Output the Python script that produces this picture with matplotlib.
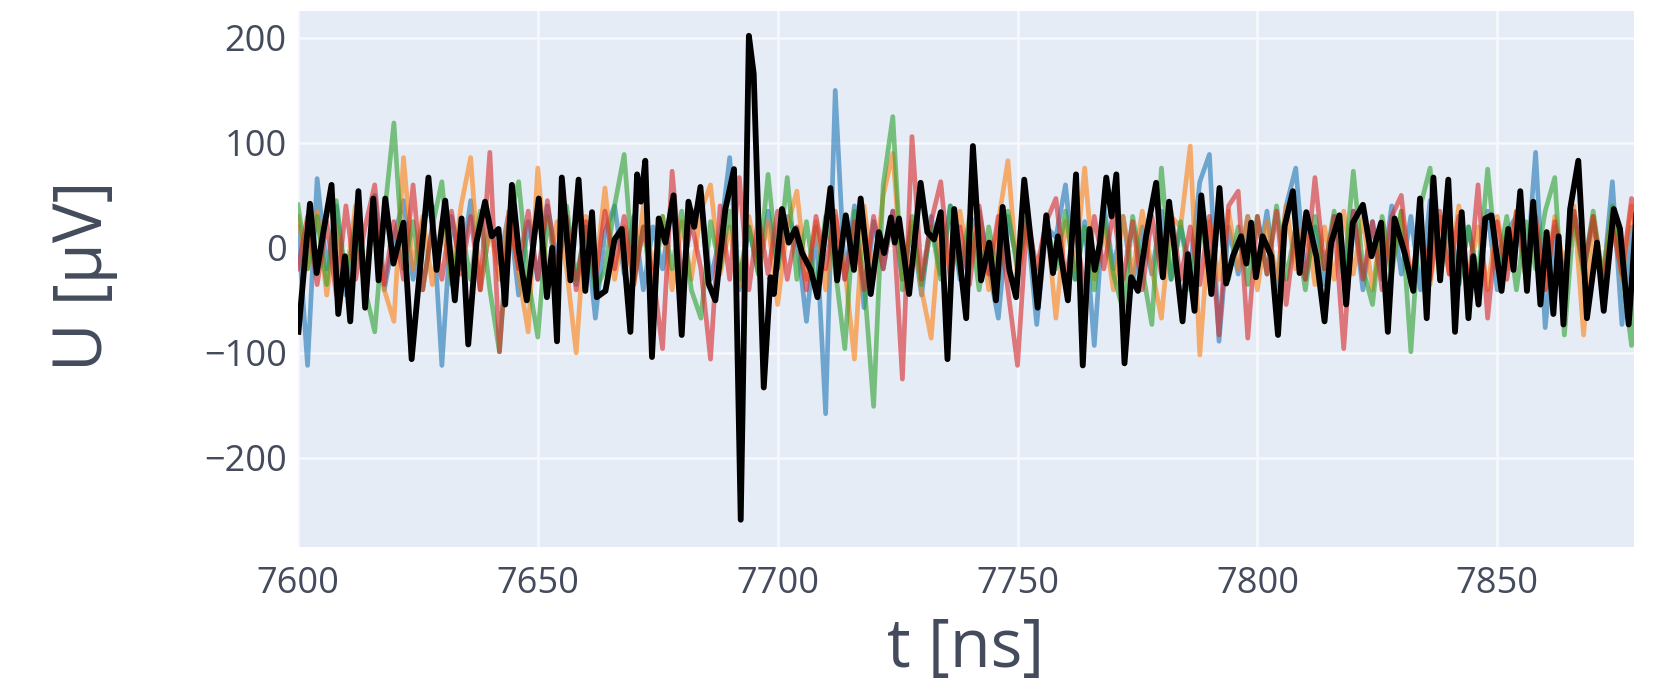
import numpy as np
import matplotlib
matplotlib.use("Agg")
import matplotlib.pyplot as plt

# ---- black reference trace (sample times in ns, voltage in µV) ----
t_black = [
    7600.1, 7602.5, 7603.9, 7605.3, 7607.0, 7608.4, 7609.8, 7610.9, 7612.6, 7614.0,
    7615.7, 7616.8, 7618.2, 7619.9, 7622.0, 7623.7, 7627.2, 7628.9, 7630.7, 7632.7,
    7634.1, 7635.5, 7637.2, 7639.0, 7640.4, 7641.8, 7643.2, 7644.6, 7646.0, 7647.7,
    7650.2, 7651.9, 7653.0, 7654.0, 7655.0, 7656.8, 7658.5, 7659.9, 7661.3, 7662.3,
    7664.1, 7666.0, 7667.5, 7669.3, 7670.7, 7671.5, 7672.4, 7673.8, 7675.2, 7676.6,
    7678.3, 7680.0, 7681.4, 7682.6, 7683.9, 7685.6, 7687.0, 7689.1, 7690.9, 7692.3,
    7694.0, 7695.0, 7697.1, 7698.5, 7699.2, 7700.9, 7702.3, 7703.7, 7705.1, 7706.9,
    7708.3, 7711.0, 7712.4, 7714.2, 7715.9, 7717.3, 7719.4, 7721.1, 7722.2, 7723.6,
    7724.4, 7725.3, 7727.4, 7729.8, 7731.2, 7732.6, 7734.0, 7735.4, 7736.8, 7739.3,
    7740.7, 7742.4, 7744.1, 7745.5, 7746.9, 7748.3, 7749.7, 7751.4, 7753.2, 7754.2,
    7756.0, 7757.4, 7758.4, 7760.5, 7762.2, 7763.6, 7765.0, 7766.1, 7767.2, 7768.5,
    7769.6, 7770.6, 7772.3, 7773.7, 7775.1, 7776.8, 7778.9, 7780.3, 7781.6, 7784.4,
    7785.5, 7786.9, 7788.3, 7790.4, 7792.1, 7793.5, 7794.9, 7796.6, 7797.7, 7798.7,
    7799.7, 7801.1, 7802.9, 7804.3, 7805.7, 7807.4, 7808.8, 7810.2, 7812.3, 7814.0,
    7815.4, 7817.1, 7818.5, 7819.9, 7822.0, 7823.8, 7825.8, 7827.2, 7828.6, 7830.7,
    7832.5, 7833.9, 7835.3, 7836.7, 7838.1, 7839.8, 7841.2, 7842.6, 7844.0, 7845.0,
    7846.1, 7847.5, 7848.8, 7850.9, 7852.3, 7853.4, 7854.8, 7856.2, 7857.5, 7859.0,
    7860.3, 7861.7, 7862.8, 7863.8, 7865.2, 7866.9, 7868.7, 7870.8, 7872.2, 7874.3,
    7875.6, 7877.4, 7879.0,
]
u_black = [
    -80, 42, -24, 15, 60, -63, -8, -70, 54, -57,
    47, -31, 47, -15, 24, -106, 67, -21, 45, -50,
    28, -92, 5, 44, 11, 18, -54, 60, -2, -50,
    47, -47, 0, -89, 67, -31, 65, -41, 34, -47,
    -41, 8, 18, -80, 70, 44, 83, -104, 28, 5,
    50, -83, 44, 20, 58, -34, -50, 37, 75, -259,
    202, 166, -133, -28, -44, 37, 5, 18, -5, -21,
    -47, 57, -31, 31, -21, 47, -44, 15, -5, 29,
    5, 28, -44, 62, 15, 8, 34, -106, 37, -67,
    97, -31, 5, -50, 39, -21, -47, 65, -11, -57,
    31, -24, 11, -50, 70, -112, 18, -21, 5, 67,
    30, 70, -110, -28, -41, 11, 62, -28, 44, -70,
    -6, -60, 50, -44, 57, -34, -8, 11, -15, 24,
    -28, 11, -8, -83, 21, 54, -24, 34, -8, -70,
    5, 31, -54, 24, 41, -8, 24, -80, 28, -5,
    -41, 47, -67, 67, -31, 65, -80, 34, -67, -8,
    -54, 28, 31, -41, 18, -21, 54, -41, 44, -54,
    15, -63, 11, -73, 37, 83, -67, 5, -60, 37,
    18, -73, 31,
]

# ---- other channels, sampled every 2 ns from 7600 ns ----
t_start, dt = 7600.0, 2.0

u_blue = [
    20, -112, 66, -20, 40, -45, 30, -35, 50, -40,
    10, 45, -30, 25, 40, -112, 30, -20, 45, -40,
    20, -15, 35, -45, 25, -30, 40, -10, 30, -35,
    20, -67, 15, 40, -25, 30, -40, 20, -20, 45,
    -35, 30, 44, -30, 10, 86, -40, 20, -25, 35,
    -20, 30, 10, -70, 20, -158, 150, -30, 40, -57,
    25, -20, 35, -30, 20, -45, 30, -25, 40, -30,
    15, 35, -20, -67, 30, -15, 25, -73, 20, 10,
    60, -30, 25, -93, 40, -20, 30, -35, 20, -25,
    35, -30, 20, -20, 63, 89, -89, 20, -25, 30,
    -20, 35, -40, 40, 76, -30, 20, -35, 30, -20,
    35, -40, 25, -30, 40, -25, 30, -40, 45, -20,
    30, -35, 20, -30, 35, -40, 15, 30, -30, 91,
    -76, 20, -30, 35, -20, 25, -35, 63, -73, 20,
    -10,
]
u_orange = [
    30, -20, 35, -45, 20, -30, 40, -25, 30, -40,
    -70, 86, -20, 30, -35, 25, -30, 40, 86, -40,
    20, -30, 35, -25, -80, 76, -30, 25, -20, -100,
    30, -25, 57, -30, 20, -35, 40, -20, 30, -40,
    25, -30, 35, 60, -25, 20, -35, 30, -20, 25,
    -54, 20, 54, -30, 25, -40, 30, -20, -106, 40,
    -30, 50, 90, -30, 25, -40, -86, 30, -25, 35,
    -20, 30, -40, 25, 83, -30, 20, -35, 30, -67,
    25, -20, 76, -30, 20, -40, 30, -25, 35, -20,
    -67, 30, 20, 97, -102, 25, -30, 35, -20, 30,
    -40, 25, -30, 40, -20, 30, -35, 20, -30, 35,
    -25, 30, -40, 25, -20, 35, -30, 20, -35, 30,
    -25, 40, -30, 20, -40, 30, -20, 35, -30, 25,
    -40, 30, -20, 40, -83, 30, -25, 35, -30, 40,
    -20,
]
u_green = [
    41, -20, 30, -35, 45, -30, 20, -40, -80, 30,
    119, -20, 25, -40, 20, 63, -35, 20, -30, 35,
    -40, -99, 25, 63, -30, -85, 30, -25, 40, -30,
    20, -40, -21, 40, 89, -30, 20, -45, 30, -20,
    35, -40, -67, 25, -20, 35, -30, 20, -25, 70,
    -20, 67, -30, 25, -40, 30, -20, -96, 35, -30,
    -151, 60, 125, -40, 30, -35, 20, -30, 40, -25,
    30, -40, 20, -30, 35, -20, 30, -45, 25, -20,
    35, -30, 20, -40, 30, -25, -60, 30, -20, -73,
    76, -30, 25, -40, 30, -20, 35, -30, 20, -35,
    30, -25, 40, -30, 20, -40, 30, -20, 35, -30,
    73, -20, -54, 30, -25, 35, -99, 40, 76, -30,
    25, -35, 20, -30, 75, -20, 30, -40, 25, -20,
    35, 67, -83, 30, -25, 35, -30, 40, -20, -93,
    30,
]
u_red = [
    -20, 30, -35, 25, -45, 40, -30, 20, 60, -35,
    25, -30, 60, -40, 20, -30, 35, -25, 30, -40,
    91, -99, 30, -20, 35, -30, 45, -25, 30, -40,
    25, -30, 35, -20, 30, -35, 20, -25, -96, 73,
    -30, 25, -20, -106, 40, -30, 67, -40, 30, -25,
    35, -30, 20, -40, 30, -20, 35, -30, 25, -40,
    30, -20, 35, -125, 106, -30, 25, 63, -30, 20,
    -35, 40, -25, 30, -40, -112, 30, -20, 25, 47,
    -30, 20, -40, 30, -20, 35, -30, 25, -40, 30,
    -25, 35, -30, 20, -35, 30, -83, 40, 54, -86,
    30, -25, 35, -54, 20, -30, 67, -20, 30, -96,
    35, -30, 25, -40, 30, 50, -35, 20, -30, 35,
    -25, 30, -40, 60, -67, 25, -30, 35, -20, 30,
    -40, 25, -30, 35, -20, 30, -35, 20, -25, 47,
    -30,
]

x_ticks = [7600, 7650, 7700, 7750, 7800, 7850]
y_ticks = [-200, -100, 0, 100, 200]

channels = [
    (u_blue, "#1f77b4"),
    (u_orange, "#ff7f0e"),
    (u_green, "#2ca02c"),
    (u_red, "#d62728"),
]

plt.rcParams["font.family"] = ["Open Sans", "DejaVu Sans"]
text_color = "#434b5c"

fig = plt.figure(figsize=(16.59, 6.86), dpi=100)
ax = fig.add_axes([0.1796, 0.2026, 0.8053, 0.7819])
ax.set_facecolor("#E5ECF6")

for vals, col in channels:
    t = t_start + dt * np.arange(len(vals))
    ax.plot(t, vals, color=col, lw=3.4, alpha=0.6, zorder=2)

ax.plot(t_black, u_black, color="black", lw=4.2, zorder=3)

ax.set_xlim(7600, 7878.5)
ax.set_ylim(-285, 226)
ax.set_xticks(x_ticks)
ax.set_yticks(y_ticks)
ax.grid(True, color="#f7f9fc", lw=1.8, zorder=1)
ax.set_axisbelow(True)
for s in ax.spines.values():
    s.set_visible(False)
ax.tick_params(axis="both", length=0, labelsize=26, labelcolor=text_color)
ax.tick_params(axis="x", pad=14)
ax.tick_params(axis="y", pad=8)

ax.set_xlabel("t [ns]", fontsize=48, color=text_color)
ax.set_ylabel("U [µV]", fontsize=48, color=text_color)
ax.xaxis.set_label_coords(0.5, -0.19)
ax.xaxis.label.set_va("center")
ax.yaxis.set_label_coords(-0.16, 0.505)
ax.yaxis.label.set_va("center")

fig.savefig("out.png", dpi=100, facecolor="white")
